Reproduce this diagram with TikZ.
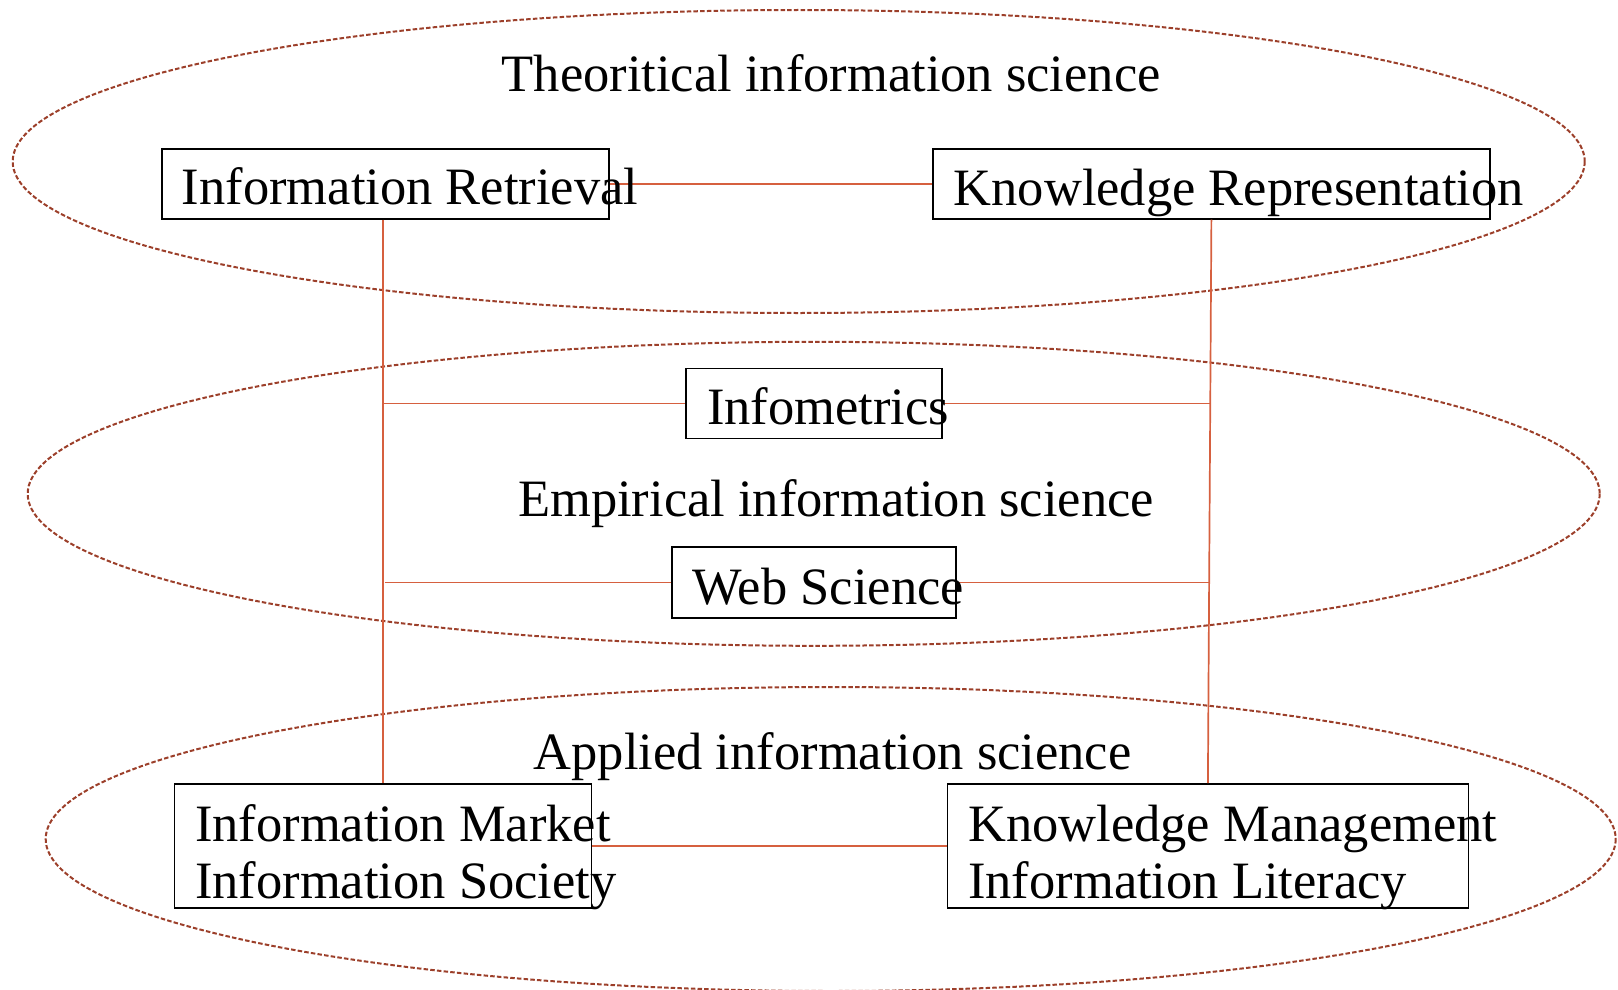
\documentclass[tikz,border=0pt]{standalone}
\usepackage{fontspec}
\setmainfont{Liberation Serif}
\definecolor{ellc}{HTML}{9C3F2A}
\definecolor{linec}{HTML}{D6603F}
\tikzset{
  x=1pt, y=-1pt,
  area/.style={draw=ellc, line width=2pt, dash pattern=on 4.5pt off 2.2pt},
  boxnode/.style={draw=black, line width=1.8pt, inner sep=0pt},
  lbl/.style={anchor=base west, inner sep=0pt, font=\fontsize{52.5}{64}\selectfont},
  conn/.style={draw=linec, line width=1.7pt}
}
\begin{document}
\begin{tikzpicture}
\useasboundingbox (0,0) rectangle (1618,990);
% areas
\draw[area] (798.7,161.5) ellipse [x radius=786, y radius=151.5];
\draw[area] (813.7,493.8) ellipse [x radius=786, y radius=152];
\draw[area] (830.7,839) ellipse [x radius=785, y radius=152];
% boxes
\node[boxnode, minimum width=447pt, minimum height=70pt] (ir) at (385.5,183.7) {};
\node[boxnode, minimum width=557pt, minimum height=70pt] (kr) at (1211.4,183.7) {};
\node[boxnode, minimum width=256pt, minimum height=70pt] (info) at (814,403.5) {};
\node[boxnode, minimum width=284pt, minimum height=71pt] (web) at (813.6,582.5) {};
\node[boxnode, minimum width=417pt, minimum height=124pt] (im) at (382.9,846) {};
\node[boxnode, minimum width=521pt, minimum height=124pt] (km) at (1207.9,846) {};
% connectors
\draw[conn] (ir.east) -- (kr.west);
\draw[conn] (ir.south -| im.north) -- (im.north);
\draw[conn] (kr.south) -- (km.north);
\coordinate (rl1) at (1210.3,403.5);
\coordinate (rl2) at (1209.6,582.5);
\draw[conn] (info.west -| im.north) -- (info.west);
\draw[conn] (info.east) -- (rl1);
\draw[conn] ([xshift=2pt]web.west -| im.north) -- (web.west);
\draw[conn] (web.east) -- (rl2);
\draw[conn] (im.east) -- (km.west);
% labels
\node[lbl] (t1) at (501.5,92) {Theoritical information science};
\node[lbl] (t2) at (518,516) {Empirical information science};
\node[lbl] (t3) at (533.5,769) {Applied information science};
\node[lbl] (l1) at (181.7,204) {Information Retrieval};
\node[lbl] (l2) at (953.5,205) {Knowledge Representation};
\node[lbl] (l3) at (707,424) {Infometrics};
\node[lbl] (l4) at (692.4,604.5) {Web Science};
\node[lbl] (l5) at (195,841) {Information Market};
\node[lbl] (l6) at (195,898) {Information Society};
\node[lbl] (l7) at (968,841) {Knowledge Management};
\node[lbl] (l8) at (968,898) {Information Literacy};
\end{tikzpicture}
\end{document}
